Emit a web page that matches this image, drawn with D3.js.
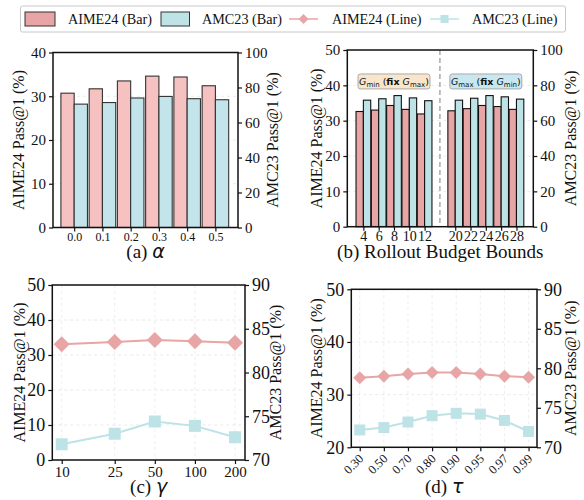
<!DOCTYPE html>
<html>
<head>
<meta charset="utf-8">
<script src="https://cdn.jsdelivr.net/npm/d3@7"></script>
<style>
  body { margin: 0; background: #fff; }
  text { font-family: "Liberation Serif", "Times New Roman", serif; fill: #111; }
</style>
</head>
<body>
<div id="chart"></div>
<script>
// ---- data ----
const alphaLabels = ["0.0", "0.1", "0.2", "0.3", "0.4", "0.5"];
const alphaAime = [30.7, 31.7, 33.5, 34.6, 34.4, 32.4];
const alphaAmc = [70.5, 71.4, 74.0, 74.9, 73.6, 73.0];

const budgetLabels = ["4", "6", "8", "10", "12", "20", "22", "24", "26", "28"];
const budgetSlots = [0, 1, 2, 3, 4, 6, 7, 8, 9, 10]; // slot 5 is the gap
const budgetAime = [32.6, 33.0, 34.3, 33.2, 31.9, 32.8, 33.4, 34.3, 34.0, 33.2];
const budgetAmc = [71.6, 72.4, 74.2, 72.9, 71.3, 71.6, 72.7, 74.2, 73.5, 72.2];

const gammaVals = [10, 25, 50, 100, 200];
const gammaAime = [33.1, 33.7, 34.3, 33.9, 33.5];
const gammaAmc = [71.8, 73.0, 74.4, 73.9, 72.6];

const tauLabels = ["0.30", "0.50", "0.70", "0.80", "0.90", "0.95", "0.97", "0.99"];
const tauAime = [33.2, 33.5, 33.9, 34.2, 34.2, 33.9, 33.5, 33.3];
const tauAmc = [72.2, 72.5, 73.2, 74.0, 74.3, 74.2, 73.4, 72.0];

const pinkA = "#f6c1c1", cyanA = "#c2e4ea";
const pink = "#e8a5a5", cyan = "#bde3e6";
const greek = "'DejaVu Sans', sans-serif";

const svg = d3.select("#chart").append("svg")
    .attr("width", 584)
    .attr("height", 500);

function grid(g, box, yL, vals, xs) {
    g.append("g").selectAll("line").data(vals).enter().append("line")
        .attr("x1", box.l).attr("x2", box.r)
        .attr("y1", d => yL(d)).attr("y2", d => yL(d))
        .attr("stroke", "#e4e4e4").attr("stroke-dasharray", "3,3").attr("stroke-width", 0.8);
    if (xs) {
        g.append("g").selectAll("line").data(xs).enter().append("line")
            .attr("x1", d => d).attr("x2", d => d)
            .attr("y1", box.t).attr("y2", box.b)
            .attr("stroke", "#e8e8e8").attr("stroke-dasharray", "3,3").attr("stroke-width", 0.8);
    }
}

function styleAxis(a, size) {
    a.select(".domain").remove();
    a.attr("font-family", null).attr("font-size", null);
    a.selectAll("line").attr("stroke", "#111").attr("stroke-width", 1.2);
    a.selectAll("text").style("font-size", size + "px").attr("fill", "#111");
}

function frame(g, box, yL, yR, o) {
    const la = g.append("g").attr("transform", "translate(" + box.l + ",0)")
        .call(d3.axisLeft(yL).tickValues(o.lt).tickSize(4).tickPadding(3).tickFormat(d3.format("d")));
    styleAxis(la, o.ys);
    const ra = g.append("g").attr("transform", "translate(" + box.r + ",0)")
        .call(d3.axisRight(yR).tickValues(o.rt).tickSize(4).tickPadding(3).tickFormat(d3.format("d")));
    styleAxis(ra, o.ys);
    const ba = g.append("g").attr("transform", "translate(0," + box.b + ")")
        .call(o.xAxis);
    styleAxis(ba, o.xs);
    if (o.rotate) {
        ba.selectAll("text")
            .attr("text-anchor", "end")
            .attr("dy", null).attr("y", null)
            .attr("transform", "translate(4,12) rotate(-45)");
    }
    g.append("rect")
        .attr("x", box.l).attr("y", box.t)
        .attr("width", box.r - box.l).attr("height", box.b - box.t)
        .attr("fill", "none").attr("stroke", "#111").attr("stroke-width", 1.5);

    const cy = (box.t + box.b) / 2;
    g.append("text")
        .attr("transform", "translate(" + (box.l - o.lOff) + "," + cy + ") rotate(-90)")
        .attr("text-anchor", "middle").style("font-size", "16px")
        .text("AIME24 Pass@1 (%)");
    g.append("text")
        .attr("transform", "translate(" + (box.r + o.rOff) + "," + cy + ") rotate(-90)")
        .attr("text-anchor", "middle").style("font-size", "16px")
        .text("AMC23 Pass@1 (%)");

    const t = g.append("text")
        .attr("x", (box.l + box.r) / 2).attr("y", o.titleY)
        .attr("text-anchor", "middle").style("font-size", "19px");
    t.append("tspan").text(o.title + " ");
    t.append("tspan").style("font-family", greek).style("font-style", "italic").text(o.sym);
}

function diamond(s) {
    return "M0," + (-s) + "L" + s + ",0L0," + s + "L" + (-s) + ",0Z";
}

// ---- (a) alpha ----
{
    const box = {l: 53, r: 238, t: 52.5, b: 227.5};
    const g = svg.append("g");
    const x = d3.scaleLinear().domain([-0.75, 5.8]).range([box.l, box.r]);
    const yL = d3.scaleLinear().domain([0, 40]).range([box.b, box.t]);
    const yR = d3.scaleLinear().domain([0, 100]).range([box.b, box.t]);
    const w = x(0.47) - x(0);
    grid(g, box, yL, [10, 20, 30]);
    g.selectAll(".ba").data(alphaAime).enter().append("rect")
        .attr("x", (d, i) => x(i) - w).attr("y", d => yL(d))
        .attr("width", w).attr("height", d => box.b - yL(d))
        .attr("fill", pinkA).attr("stroke", "#333").attr("stroke-width", 1.1);
    g.selectAll(".bb").data(alphaAmc).enter().append("rect")
        .attr("x", (d, i) => x(i)).attr("y", d => yR(d))
        .attr("width", w).attr("height", d => box.b - yR(d))
        .attr("fill", cyanA).attr("stroke", "#333").attr("stroke-width", 1.1);
    frame(g, box, yL, yR, {
        lt: [0, 10, 20, 30, 40], rt: [0, 20, 40, 60, 80, 100], ys: 15, xs: 12,
        xAxis: d3.axisBottom(x).tickValues(d3.range(alphaLabels.length)).tickFormat(i => alphaLabels[i]).tickSize(4).tickPadding(1),
        lOff: 29.5, rOff: 40, titleY: 258, title: "(a)", sym: "α"
    });
}

// ---- (b) rollout budget bounds ----
{
    const box = {l: 347.3, r: 533.3, t: 50, b: 226.7};
    const g = svg.append("g");
    const x = d3.scaleLinear().domain([-1.05, 11.1]).range([box.l, box.r]);
    const yL = d3.scaleLinear().domain([0, 50]).range([box.b, box.t]);
    const yR = d3.scaleLinear().domain([0, 100]).range([box.b, box.t]);
    const w = x(0.48) - x(0);
    grid(g, box, yL, [10, 20, 30, 40]);
    g.append("line")
        .attr("x1", x(5)).attr("x2", x(5)).attr("y1", box.t).attr("y2", box.b)
        .attr("stroke", "#aaa").attr("stroke-width", 1.5).attr("stroke-dasharray", "5,3");
    g.selectAll(".ba").data(budgetAime).enter().append("rect")
        .attr("x", (d, i) => x(budgetSlots[i]) - w).attr("y", d => yL(d))
        .attr("width", w).attr("height", d => box.b - yL(d))
        .attr("fill", pink).attr("stroke", "#111").attr("stroke-width", 1.1);
    g.selectAll(".bb").data(budgetAmc).enter().append("rect")
        .attr("x", (d, i) => x(budgetSlots[i])).attr("y", d => yR(d))
        .attr("width", w).attr("height", d => box.b - yR(d))
        .attr("fill", cyan).attr("stroke", "#111").attr("stroke-width", 1.1);

    // group notes
    const notes = [
        {slot: 2, a: "min", b: "max", fill: "#f8e6cc"},
        {slot: 8, a: "max", b: "min", fill: "#c9e7ee"}
    ];
    notes.forEach(function(n) {
        const cx = x(n.slot), cy = yL(41.1);
        g.append("rect")
            .attr("x", cx - 36).attr("y", cy - 7.5).attr("width", 72).attr("height", 15)
            .attr("rx", 2.5).attr("fill", n.fill).attr("stroke", "#999").attr("stroke-width", 0.8);
        const t = g.append("text")
            .attr("x", cx).attr("y", cy + 3.3)
            .attr("text-anchor", "middle")
            .style("font-family", "'DejaVu Sans', sans-serif").style("font-size", "9.5px");
        t.append("tspan").style("font-style", "italic").text("G");
        t.append("tspan").attr("dy", 2).style("font-size", "7px").text(n.a);
        t.append("tspan").attr("dy", -2).text(" (");
        t.append("tspan").style("font-weight", "bold").text("fix");
        t.append("tspan").style("font-style", "italic").text(" G");
        t.append("tspan").attr("dy", 2).style("font-size", "7px").text(n.b);
        t.append("tspan").attr("dy", -2).text(")");
    });

    frame(g, box, yL, yR, {
        lt: [0, 10, 20, 30, 40, 50], rt: [0, 20, 40, 60, 80, 100], ys: 15, xs: 14,
        xAxis: d3.axisBottom(x).tickValues(budgetSlots).tickFormat(s => budgetLabels[budgetSlots.indexOf(s)]).tickSize(4).tickPadding(0),
        lOff: 25, rOff: 42.5, titleY: 258, title: "(b) Rollout Budget Bounds", sym: ""
    });
}

// ---- (c) gamma ----
{
    const box = {l: 52.3, r: 245, t: 285, b: 460};
    const g = svg.append("g");
    const x = d3.scaleLog().domain([8.5, 237.7]).range([box.l, box.r]);
    const yL = d3.scaleLinear().domain([0, 50]).range([box.b, box.t]);
    const yR = d3.scaleLinear().domain([70, 90]).range([box.b, box.t]);
    grid(g, box, yL, [10, 20, 30, 40], gammaVals.map(v => x(v)));
    const lineL = d3.line().x((d, i) => x(gammaVals[i])).y(d => yL(d));
    const lineR = d3.line().x((d, i) => x(gammaVals[i])).y(d => yR(d));
    g.append("path").datum(gammaAime).attr("d", lineL)
        .attr("fill", "none").attr("stroke", pink).attr("stroke-width", 2);
    g.append("path").datum(gammaAmc).attr("d", lineR)
        .attr("fill", "none").attr("stroke", cyan).attr("stroke-width", 2);
    g.selectAll(".pa").data(gammaAime).enter().append("path")
        .attr("transform", (d, i) => "translate(" + x(gammaVals[i]) + "," + yL(d) + ")")
        .attr("d", diamond(8)).attr("fill", pink);
    g.selectAll(".pb").data(gammaAmc).enter().append("rect")
        .attr("x", (d, i) => x(gammaVals[i]) - 6).attr("y", d => yR(d) - 6)
        .attr("width", 12).attr("height", 12).attr("fill", cyan);
    frame(g, box, yL, yR, {
        lt: [0, 10, 20, 30, 40, 50], rt: [70, 75, 80, 85, 90], ys: 18, xs: 15,
        xAxis: d3.axisBottom(x).tickValues(gammaVals).tickFormat(d3.format("d")).tickSize(4).tickPadding(2),
        lOff: 27.5, rOff: 35.5, titleY: 493, title: "(c)", sym: "γ"
    });
}

// ---- (d) tau ----
{
    const box = {l: 351.3, r: 537, t: 289.3, b: 447.3};
    const g = svg.append("g");
    const x = d3.scaleLinear().domain([-0.35, 7.35]).range([box.l, box.r]);
    const yL = d3.scaleLinear().domain([20, 50]).range([box.b, box.t]);
    const yR = d3.scaleLinear().domain([70, 90]).range([box.b, box.t]);
    grid(g, box, yL, [30, 40], d3.range(tauLabels.length).map(i => x(i)));
    const lineL = d3.line().x((d, i) => x(i)).y(d => yL(d));
    const lineR = d3.line().x((d, i) => x(i)).y(d => yR(d));
    g.append("path").datum(tauAime).attr("d", lineL)
        .attr("fill", "none").attr("stroke", pink).attr("stroke-width", 2);
    g.append("path").datum(tauAmc).attr("d", lineR)
        .attr("fill", "none").attr("stroke", cyan).attr("stroke-width", 2);
    g.selectAll(".pa").data(tauAime).enter().append("path")
        .attr("transform", (d, i) => "translate(" + x(i) + "," + yL(d) + ")")
        .attr("d", diamond(6.5)).attr("fill", pink);
    g.selectAll(".pb").data(tauAmc).enter().append("rect")
        .attr("x", (d, i) => x(i) - 5.5).attr("y", d => yR(d) - 5.5)
        .attr("width", 11).attr("height", 11).attr("fill", cyan);
    frame(g, box, yL, yR, {
        lt: [20, 30, 40, 50], rt: [70, 75, 80, 85, 90], ys: 18, xs: 12.5, rotate: true,
        xAxis: d3.axisBottom(x).tickValues(d3.range(tauLabels.length)).tickFormat(i => tauLabels[i]).tickSize(4).tickPadding(2),
        lOff: 29.5, rOff: 39, titleY: 493, title: "(d)", sym: "τ"
    });
}

// ---- legend ----
{
    const lg = svg.append("g");
    lg.append("rect")
        .attr("x", 20.5).attr("y", 6).attr("width", 545).attr("height", 26)
        .attr("rx", 2).attr("fill", "#fff").attr("stroke", "#c8c8c8").attr("stroke-width", 1);
    lg.append("rect").attr("x", 25).attr("y", 12).attr("width", 30).attr("height", 14)
        .attr("fill", pink).attr("stroke", "#333").attr("stroke-width", 1);
    lg.append("text").attr("x", 68).attr("y", 24).style("font-size", "14.2px").text("AIME24 (Bar)");
    lg.append("rect").attr("x", 161).attr("y", 12).attr("width", 28.5).attr("height", 14)
        .attr("fill", cyan).attr("stroke", "#333").attr("stroke-width", 1);
    lg.append("text").attr("x", 202).attr("y", 24).style("font-size", "14.2px").text("AMC23 (Bar)");
    lg.append("line").attr("x1", 289).attr("x2", 318).attr("y1", 19).attr("y2", 19)
        .attr("stroke", pink).attr("stroke-width", 1.5);
    lg.append("path").attr("transform", "translate(303.5,19)").attr("d", diamond(5)).attr("fill", pink);
    lg.append("text").attr("x", 332).attr("y", 24).style("font-size", "14.2px").text("AIME24 (Line)");
    lg.append("line").attr("x1", 430).attr("x2", 459).attr("y1", 19).attr("y2", 19)
        .attr("stroke", cyan).attr("stroke-width", 1.5);
    lg.append("rect").attr("x", 440.5).attr("y", 15).attr("width", 8).attr("height", 8).attr("fill", cyan);
    lg.append("text").attr("x", 472).attr("y", 24).style("font-size", "14.2px").text("AMC23 (Line)");
}
</script>
</body>
</html>
